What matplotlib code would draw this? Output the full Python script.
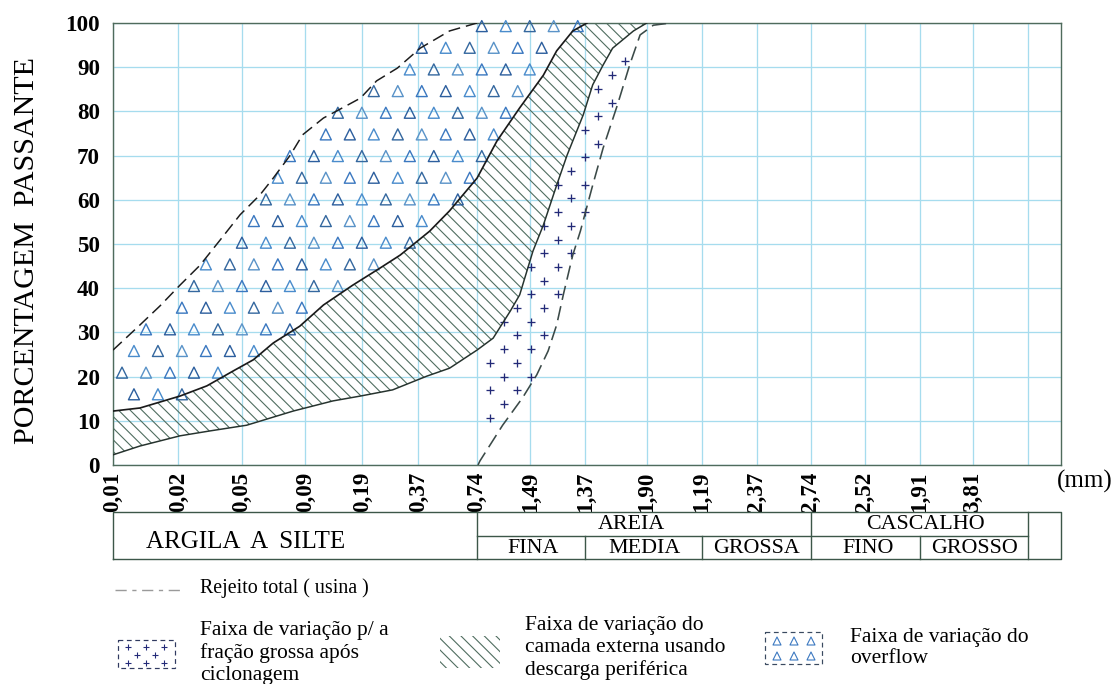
import numpy as np
import matplotlib.pyplot as plt
from matplotlib.path import Path
from matplotlib.patches import Rectangle

# eixo x: posicao de cada abertura na escala do grafico (0 = 0,01 ; 100 = borda direita)
tick_labels = ['0,01', '0,02', '0,05', '0,09', '0,19', '0,37', '0,74', '1,49',
               '1,37', '1,90', '1,19', '2,37', '2,74', '2,52', '1,91', '3,81', '']
tick_pos = [0, 6.9, 13.6, 20.3, 26.3, 32.2, 38.4, 44.0, 49.8, 56.3, 62.1, 67.9,
            73.6, 79.3, 85.1, 90.7, 96.5]

# faixa do overflow - limite superior (tracejado)
over_x = [0, 2.85, 4.96, 7.07, 9.18, 11.3, 13.4, 15.5, 16.9, 18.7, 20.0, 22.2,
          23.6, 26.1, 27.8, 30.0, 32.4, 35.5, 38.4]
over_y = [26.0, 31.7, 36.0, 40.7, 45.2, 50.9, 56.6, 61.1, 64.9, 70.1, 74.7, 78.5,
          80.1, 83.0, 86.9, 89.8, 94.3, 98.2, 100]

# camada externa (descarga periferica) - limite superior
ext_sup_x = [0, 2.85, 7.07, 9.9, 12.7, 14.8, 16.9, 19.7, 22.2, 25.3, 28.2, 30.3,
             33.4, 35.5, 38.4, 40.5, 42.9, 45.4, 46.8, 48.5, 50.0]
ext_sup_y = [12.2, 12.9, 15.6, 17.9, 21.3, 23.8, 27.6, 31.4, 36.2, 40.7, 44.6, 47.5,
             52.9, 57.5, 64.9, 73.3, 80.8, 88.2, 93.7, 98.2, 100]

# camada externa - limite inferior
ext_inf_x = [0, 2.85, 7.07, 10.2, 14.1, 19.0, 23.2, 26.1, 29.5, 33.1, 35.5, 38.4,
             40.1, 41.9, 42.9, 44.3, 45.4, 46.8, 47.9, 49.6, 50.6, 51.7, 52.7, 54.9, 56.3]
ext_inf_y = [2.3, 4.3, 6.6, 7.7, 9.0, 12.2, 14.5, 15.6, 17.0, 20.1, 21.9, 26.0,
             28.7, 34.8, 38.5, 48.4, 54.3, 63.3, 70.1, 79.2, 86.0, 90.5, 94.3, 98.2, 100]

# rejeito total (usina)
rej_x = [38.5, 38.7, 41.1, 43.2, 44.7, 45.9, 46.8, 47.5, 48.5, 49.3, 50.6, 51.7,
         53.2, 54.5, 55.6, 57.0, 58.8]
rej_y = [0, 0.9, 9.0, 15.2, 20.4, 25.8, 31.7, 38.5, 47.5, 52.9, 63.3, 71.7,
         81.4, 90.5, 97.3, 99.5, 100]

DPI = 140
PX = 72.0 / DPI   # pontos por pixel

plt.rcParams['font.family'] = ['Liberation Serif', 'DejaVu Serif']
plt.rcParams['hatch.linewidth'] = 1.1 * PX

grid_c = '#a6dcee'
spine_c = '#4f6b5c'
hatch_c = '#4f6d5f'
tri_cols = ['#3b78c0', '#2d5f9e', '#4a8ccc', '#35689f', '#5a93c8']
plus_c = '#232a78'
HATCH = '\\' * 4

fig = plt.figure(figsize=(1115 / DPI, 684 / DPI), dpi=DPI)
ax = fig.add_axes([113 / 1115, (684 - 465) / 684, 948 / 1115, 442 / 684])
ax.set_xlim(0, 100)
ax.set_ylim(0, 100)

# grade
ax.set_xticks(tick_pos, tick_labels, rotation=90)
ax.set_yticks(range(0, 101, 10))
ax.grid(True, color=grid_c, lw=1.3 * PX)
ax.set_axisbelow(True)
ax.tick_params(length=0, labelsize=23 * PX)
ax.tick_params(axis='x', pad=7 * PX)
ax.tick_params(axis='y', pad=13 * PX)
for lab in ax.get_xticklabels() + ax.get_yticklabels():
    lab.set_fontweight('bold')
for s in ax.spines.values():
    s.set_color(spine_c)
    s.set_linewidth(1.4 * PX)

# poligonos das faixas
poly_over = list(zip(over_x, over_y)) + [(ext_sup_x[-1], 100)] + \
    list(zip(ext_sup_x[::-1], ext_sup_y[::-1]))
poly_ext = list(zip(ext_sup_x, ext_sup_y)) + [(ext_inf_x[-1], 100)] + \
    list(zip(ext_inf_x[::-1], ext_inf_y[::-1]))
i0 = ext_inf_x.index(38.4)
poly_plus = list(zip(ext_inf_x[i0:], ext_inf_y[i0:])) + [(rej_x[-1], 100)] + \
    list(zip(rej_x[:1:-1], rej_y[:1:-1])) + [(38.6, 8.5)]

# faixa camada externa: hachurado
pe = np.array(poly_ext)
ax.fill(pe[:, 0], pe[:, 1], facecolor='none', edgecolor=hatch_c, hatch=HATCH,
        linewidth=0, zorder=2)

# faixa do overflow: triangulos
tx, ty, tc = [], [], []
for k in range(22):
    yy = 99.3 - 4.9 * k
    xs = np.arange(38.9 - 1.27 * (k % 2) - 2.53 * 16, 60, 2.53)
    for j, xx in enumerate(xs):
        tx.append(xx)
        ty.append(yy)
        tc.append(tri_cols[(j + 2 * k) % len(tri_cols)])
pts = np.column_stack([tx, ty])
ins = Path(poly_over).contains_points(pts)
ax.scatter(pts[ins, 0], pts[ins, 1], marker='^', s=(11 * PX) ** 2,
           facecolors='none', edgecolors=np.array(tc)[ins], linewidths=1.4 * PX,
           zorder=3, clip_on=False)

# faixa fracao grossa: cruzes
px_, py_ = [], []
for k in range(-6, 26):
    yy = 23.1 + 3.1 * k
    xs = np.arange(39.8 + 1.42 * (k % 2) - 2.85 * 2, 62, 2.85)
    px_ += list(xs)
    py_ += [yy] * len(xs)
pts = np.column_stack([px_, py_])
ins = Path(poly_plus).contains_points(pts)
ax.scatter(pts[ins, 0], pts[ins, 1], marker='+', s=(9 * PX) ** 2, c=plus_c,
           linewidths=1.3 * PX, zorder=3)

# contornos
ax.plot(over_x, over_y, color='#1c1c1c', lw=1.5 * PX, ls=(0, (8, 4)), zorder=4)
ax.plot(ext_sup_x, ext_sup_y, color='#1a1a1a', lw=1.7 * PX, zorder=4)
ax.plot(ext_inf_x, ext_inf_y, color='#26332e', lw=1.5 * PX, zorder=4)
ax.plot(rej_x, rej_y, color='#3b4a48', lw=1.6 * PX, ls=(0, (9, 4)), zorder=4)

ax.set_ylabel('PORCENTAGEM  PASSANTE', fontsize=30 * PX)
ax.yaxis.set_label_coords(-0.077, 0.485)
fig.text(1085 / 1115, 1 - 481 / 684, '(mm)', fontsize=25 * PX, ha='center', va='center')

# tabela de classificacao
tab = fig.add_axes([113 / 1115, (684 - 559) / 684, 948 / 1115, 47 / 684])
tab.set_xlim(0, 100)
tab.set_ylim(0, 1)
tab.axis('off')
lc = dict(color='#3c5749', lw=1.4 * PX, clip_on=False)
tab.plot([0, 100, 100, 0, 0], [0, 0, 1, 1, 0], **lc)
tab.plot([38.4, 96.5], [0.5, 0.5], **lc)
for xv in [38.4, 73.6, 96.5]:
    tab.plot([xv, xv], [0, 1], **lc)
for xv in [49.8, 62.1, 85.1]:
    tab.plot([xv, xv], [0, 0.5], **lc)
tfs = 22 * PX
tab.text(14.0, 0.36, 'ARGILA  A  SILTE', fontsize=25 * PX, ha='center', va='center')
tab.text(54.7, 0.74, 'AREIA', fontsize=tfs, ha='center', va='center')
tab.text(85.7, 0.74, 'CASCALHO', fontsize=tfs, ha='center', va='center')
for xv, lab in zip([44.3, 56.1, 67.9, 79.6, 90.9], ['FINA', 'MEDIA', 'GROSSA', 'FINO', 'GROSSO']):
    tab.text(xv, 0.22, lab, fontsize=tfs, ha='center', va='center')

# legenda
lg = fig.add_axes([0, 0, 1, 1], zorder=-1)
lg.set_xlim(0, 1115)
lg.set_ylim(684, 0)
lg.axis('off')
lfs = 21.5 * PX
lg.plot([115, 185], [590, 590], color='#9a9a9a', lw=1.4 * PX, ls=(0, (8, 4, 3, 4)))
lg.text(200, 588, 'Rejeito total ( usina )', fontsize=20 * PX, va='center')

lg.add_patch(Rectangle((118, 640), 57, 28, fill=False, ec='#303a60', lw=1.2 * PX, ls=(0, (4, 3))))
lg.scatter([128, 146, 164, 137, 155, 128, 146, 164], [647, 647, 647, 655, 655, 663, 663, 663],
           marker='+', s=(6 * PX) ** 2, c=plus_c, linewidths=1.1 * PX)
lg.text(200, 653, 'Faixa de variação p/ a\nfração grossa após\nciclonagem', fontsize=lfs,
        va='center', linespacing=1.2)

lg.add_patch(Rectangle((440, 636), 60, 32, fill=False, ec=hatch_c, lw=0, hatch=HATCH))
lg.text(525, 648, 'Faixa de variação do\ncamada externa usando\ndescarga periférica',
        fontsize=lfs, va='center', linespacing=1.2)

lg.add_patch(Rectangle((765, 632), 57, 32, fill=False, ec='#3a4a60', lw=1.2 * PX, ls=(0, (4, 3))))
lg.scatter([777, 794, 811, 777, 794, 811], [641, 641, 641, 656, 656, 656], marker='^',
           s=(8 * PX) ** 2, facecolors='none', edgecolors='#3b78c0', linewidths=1.1 * PX)
lg.text(850, 648, 'Faixa de variação do\noverflow', fontsize=lfs, va='center', linespacing=1.2)

plt.savefig('out.png', dpi=DPI)
